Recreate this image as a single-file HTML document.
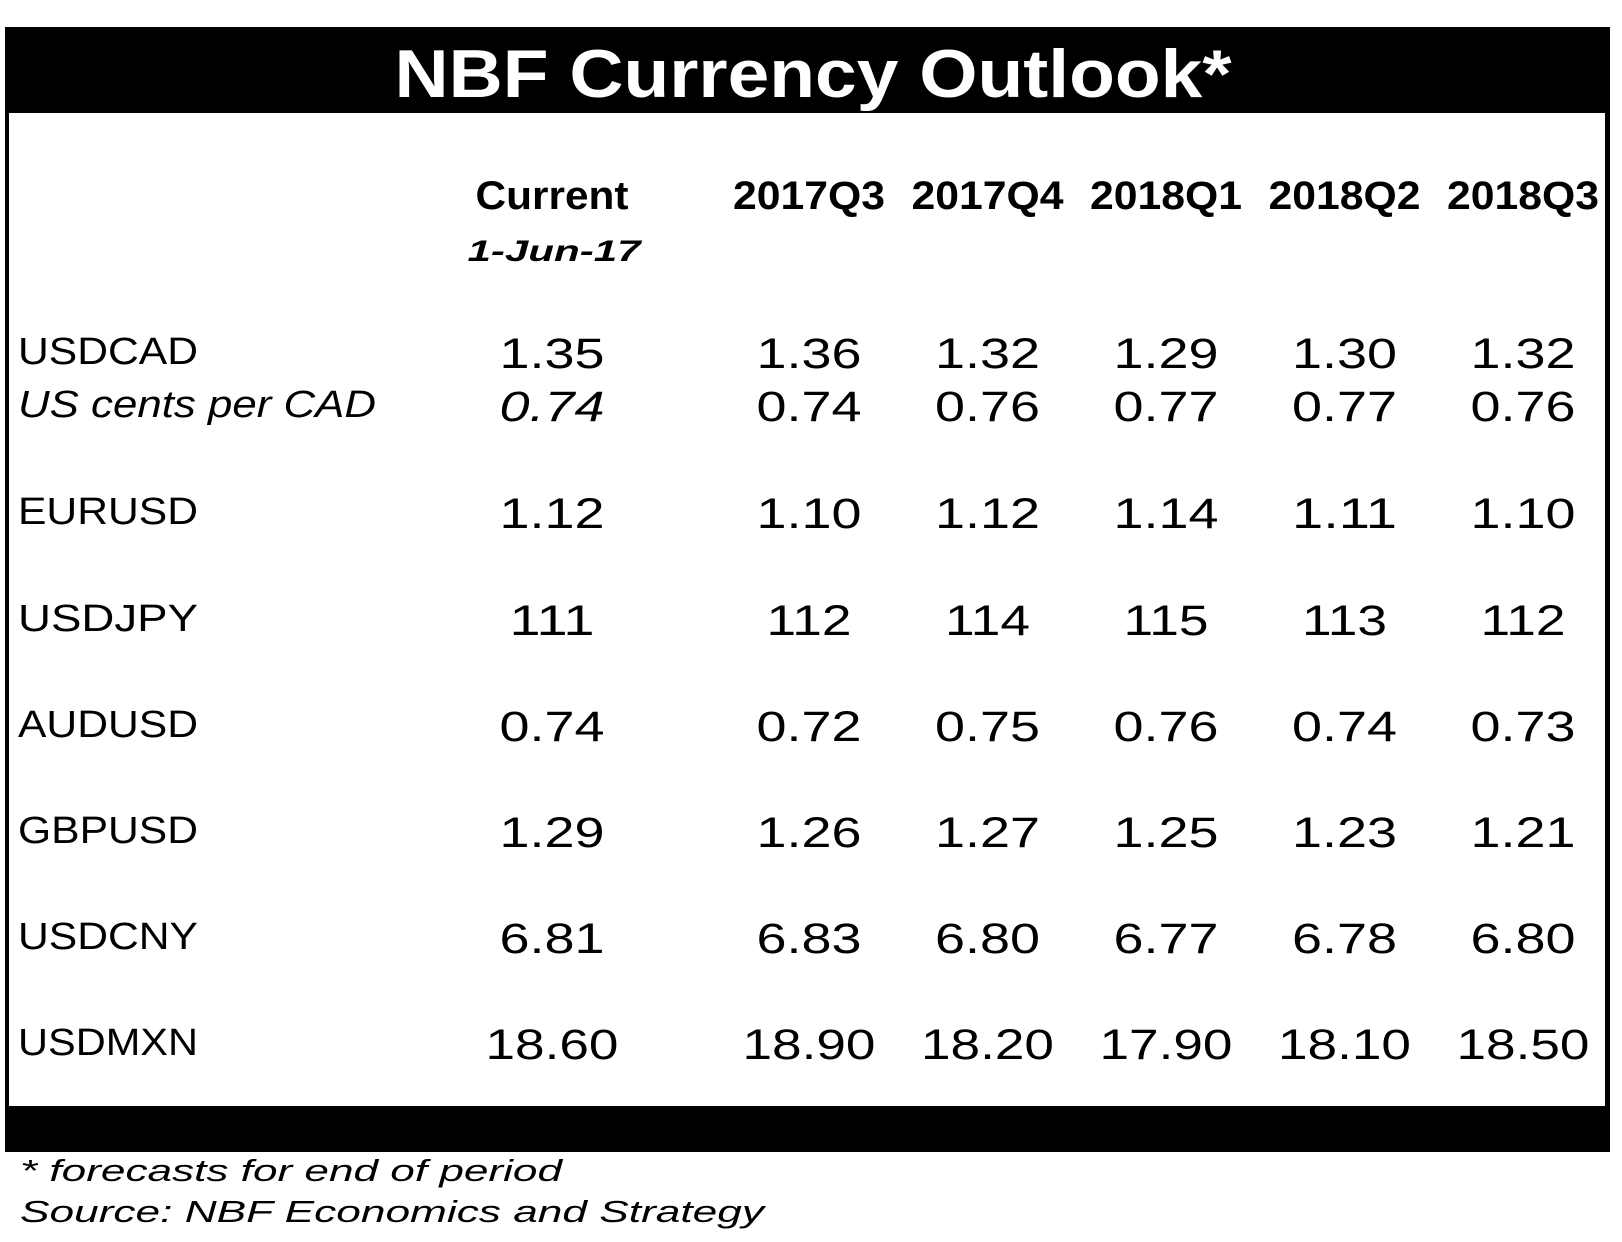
<!DOCTYPE html>
<html><head><meta charset="utf-8">
<style>
html,body{margin:0;padding:0;background:#fff;}
svg{display:block;}
text{font-family:"Liberation Sans",Arial,sans-serif;fill:#000;}
</style></head>
<body>
<svg id="chart" width="1622" height="1242" viewBox="0 0 1622 1242" xmlns="http://www.w3.org/2000/svg">
  <rect x="5" y="27" width="1605" height="1125" fill="#000"/>
  <rect x="9" y="113" width="1596" height="993" fill="#fff"/>
  <text x="813" y="97" text-anchor="middle" font-size="68" font-weight="bold" style="fill:#fff" textLength="837" lengthAdjust="spacingAndGlyphs">NBF Currency Outlook*</text>
  <g id="headers"></g>
  <g id="rows"></g>
  <text x="20" y="1181" font-size="31" font-style="italic" textLength="542" lengthAdjust="spacingAndGlyphs">* forecasts for end of period</text>
  <text x="20" y="1222" font-size="31" font-style="italic" textLength="744" lengthAdjust="spacingAndGlyphs">Source: NBF Economics and Strategy</text>
</svg>
<script>
const columns = ["Current","2017Q3","2017Q4","2018Q1","2018Q2","2018Q3"];
const pairs = ["USDCAD","US cents per CAD","EURUSD","USDJPY","AUDUSD","GBPUSD","USDCNY","USDMXN"];
const usdcad = ["1.35","1.36","1.32","1.29","1.30","1.32"];
const cadcents = ["0.74","0.74","0.76","0.77","0.77","0.76"];
const eurusd = ["1.12","1.10","1.12","1.14","1.11","1.10"];
const usdjpy = ["111","112","114","115","113","112"];
const audusd = ["0.74","0.72","0.75","0.76","0.74","0.73"];
const gbpusd = ["1.29","1.26","1.27","1.25","1.23","1.21"];
const usdcny = ["6.81","6.83","6.80","6.77","6.78","6.80"];
const usdmxn = ["18.60","18.90","18.20","17.90","18.10","18.50"];
const rowValues = [usdcad,cadcents,eurusd,usdjpy,audusd,gbpusd,usdcny,usdmxn];

const NS = "http://www.w3.org/2000/svg";
const colX = i => i === 0 ? 552 : 809 + (i-1)*178.5;
const rowY = [368,421,528,635,741,847,953,1059];
function mk(parent, txt, x, y, attrs){
  const t = document.createElementNS(NS,"text");
  t.textContent = txt;
  t.setAttribute("x", x); t.setAttribute("y", y);
  for (const k in attrs) t.setAttribute(k, attrs[k]);
  parent.appendChild(t);
  return t;
}
const hg = document.getElementById("headers");
columns.forEach((c,i)=>{
  const t = mk(hg, c, colX(i), 209, {"text-anchor":"middle","font-size":"40","font-weight":"bold","textLength": i===0?"153":"152","lengthAdjust":"spacingAndGlyphs"});
  
  
});
const dt = mk(hg, "1-Jun-17", 554, 261, {"text-anchor":"middle","font-size":"30","font-weight":"bold","font-style":"italic","textLength":"173","lengthAdjust":"spacingAndGlyphs"});



const rg = document.getElementById("rows");
pairs.forEach((p,r)=>{
  const italic = r === 1;
  const y = rowY[r];
  const lbl = mk(rg, p, 18, y - 4, {"font-size":"38","font-style": italic?"italic":"normal","textLength": italic?"358":(p.length*30).toString(),"lengthAdjust":"spacingAndGlyphs"});
  
  
  rowValues[r].forEach((v,i)=>{
    const w = v.length === 5 ? 133 : (v.length === 3 ? 85 : 105);
    const t = mk(rg, v, colX(i), y, {"text-anchor":"middle","font-size":"43","font-style": (italic && i===0)?"italic":"normal","textLength": w,"lengthAdjust":"spacingAndGlyphs"});
    
    
  });
});
</script>
</body></html>
